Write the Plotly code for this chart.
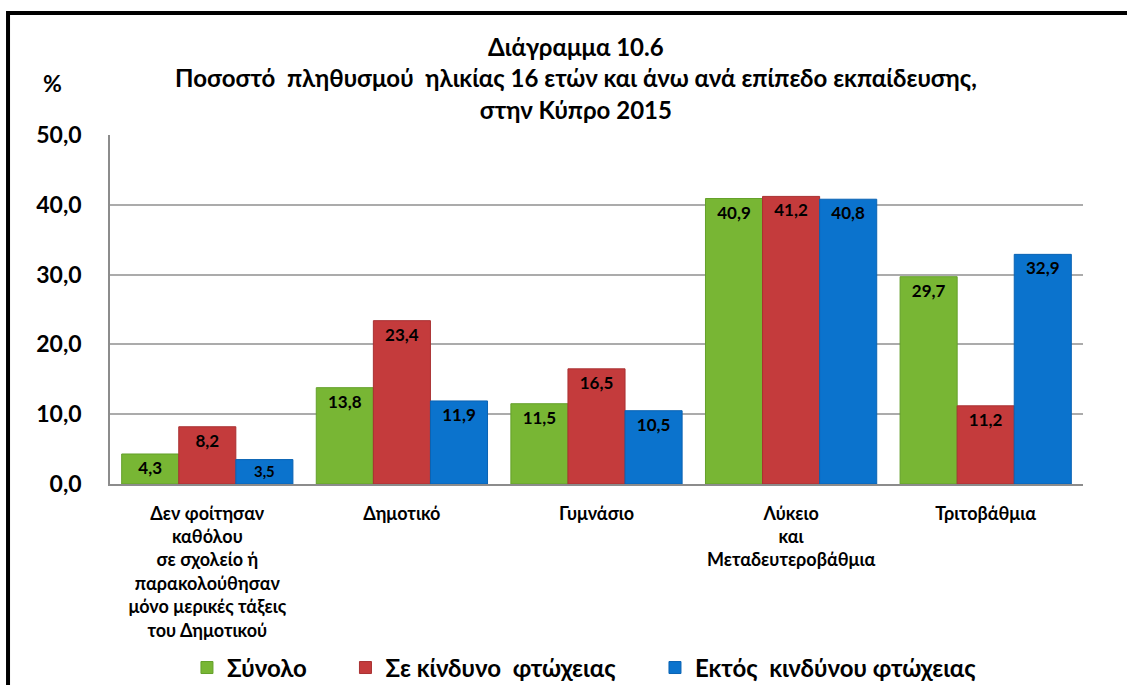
import plotly.graph_objects as go

categories = [
    "Δεν φοίτησαν<br>καθόλου<br>σε σχολείο ή<br>παρακολούθησαν<br>μόνο μερικές τάξεις<br>του Δημοτικού",
    "Δημοτικό",
    "Γυμνάσιο",
    "Λύκειο<br>και<br>Μεταδευτεροβάθμια",
    "Τριτοβάθμια",
]
synolo = [4.3, 13.8, 11.5, 40.9, 29.7]
se_kindyno = [8.2, 23.4, 16.5, 41.2, 11.2]
ektos_kindynou = [3.5, 11.9, 10.5, 40.8, 32.9]
series_names = ["Σύνολο", "Σε κίνδυνο  φτώχειας", "Εκτός  κινδύνου φτώχειας"]
y_ticks = [0, 10, 20, 30, 40, 50]

FONT = "Lato, 'Open Sans', 'Noto Sans', sans-serif"
colors = ["#78b634", "#c43b3c", "#0b73cd"]
edge = ["#64a02a", "#a93132", "#0a63b3"]
legend_ids = ["legend", "legend2", "legend3"]
legend_x = [0.0791, 0.2420, 0.5601]

fig = go.Figure()
for name, vals, c, e, lid in zip(series_names, [synolo, se_kindyno, ektos_kindynou], colors, edge, legend_ids):
    fig.add_trace(go.Bar(
        x=categories, y=vals, name="<b>" + name + "</b>", legend=lid,
        marker=dict(color=c, line=dict(color=e, width=1)),
        texttemplate="<b>%{y:.1f}</b>", textposition="inside", insidetextanchor="end",
        textfont=dict(family=FONT, size=17, color="black"),
        textangle=0,
    ))

legend_common = dict(orientation="h", xanchor="left", y=-0.527, yanchor="middle",
                     font=dict(family=FONT, size=24, color="black"), itemwidth=30,
                     bgcolor="rgba(0,0,0,0)")
fig.update_layout(
    width=1127, height=685,
    margin=dict(l=110, r=44, t=135, b=201, autoexpand=False),
    paper_bgcolor="white", plot_bgcolor="white",
    separators=",.",
    barmode="group", bargap=0.12, bargroupgap=0,
    font=dict(family=FONT, color="black"),
    title=dict(
        text="<b>Διάγραμμα 10.6<br>Ποσοστό  πληθυσμού  ηλικίας 16 ετών και άνω ανά επίπεδο εκπαίδευσης,<br>στην Κύπρο 2015</b>",
        x=0.511, xanchor="center", y=0.918, yanchor="middle",
        font=dict(family=FONT, size=24, color="black"),
    ),
    showlegend=True,
    legend=dict(x=legend_x[0], **legend_common),
    legend2=dict(x=legend_x[1], **legend_common),
    legend3=dict(x=legend_x[2], **legend_common),
    uniformtext=dict(mode=False),
    yaxis=dict(
        range=[0, 50], tickmode="array", tickvals=y_ticks,
        ticktext=["<b>" + ("%.1f" % v).replace(".", ",") + "</b>" for v in y_ticks],
        showgrid=True, gridcolor="#ababab", gridwidth=1.5,
        showline=True, linecolor="#8c8c8c", linewidth=1.5,
        ticks="outside", ticklen=22, tickcolor="rgba(0,0,0,0)",
        tickfont=dict(family=FONT, size=23, color="black"),
        zeroline=False,
    ),
    # overlay axis that only draws the short visible tick marks
    yaxis2=dict(overlaying="y", anchor="x", side="left", range=[0, 50],
                tickmode="array", tickvals=y_ticks, showticklabels=False,
                ticks="outside", ticklen=7, tickcolor="#8c8c8c", tickwidth=1.5,
                showgrid=False, zeroline=False, showline=False),
)
fig.update_xaxes(
    showline=True, linecolor="#8c8c8c", linewidth=2,
    ticks="", tickfont=dict(family=FONT, size=18, color="black"),
    tickmode="array", tickvals=categories,
    ticktext=["<b>" + c.replace("<br>", "</b><br><b>") + "</b>" for c in categories],
    ticklabelstandoff=12,
)

fig.add_annotation(text="<b>%</b>", xref="paper", yref="paper", x=-0.0596, y=1.149,
                   xanchor="center", yanchor="middle",
                   showarrow=False, font=dict(family=FONT, size=23, color="black"))
fig.add_shape(type="rect", xref="paper", yref="paper", x0=-0.1048, x1=1.2, y0=-0.7, y1=1.3496,
              line=dict(color="black", width=4), fillcolor="rgba(0,0,0,0)", layer="above")

fig.write_html("out.html", config={"displayModeBar": False},
               post_script="document.body.style.margin='0';document.body.style.overflow='hidden';")
